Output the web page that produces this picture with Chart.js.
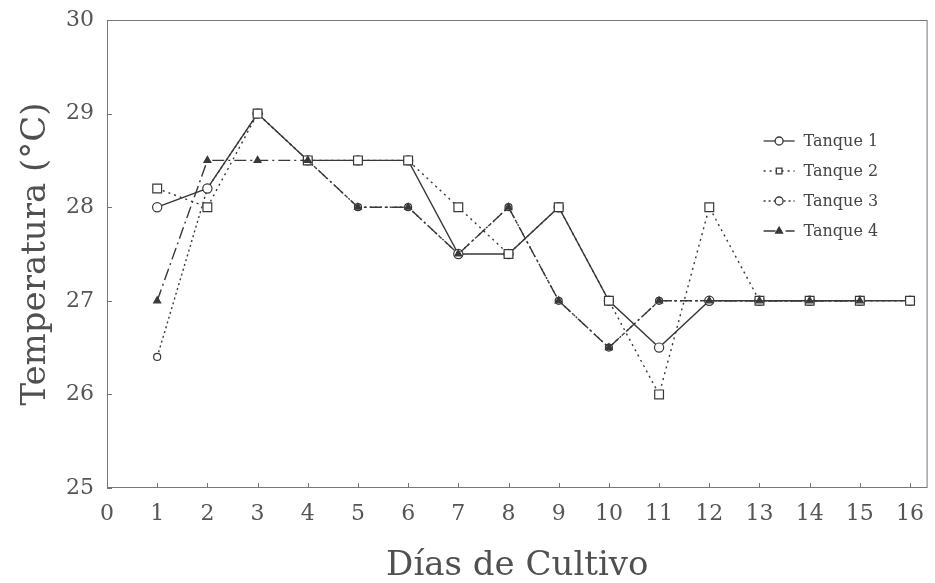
<!DOCTYPE html>
<html>
<head>
<meta charset="utf-8">
<script src="https://cdn.jsdelivr.net/npm/chart.js@4/dist/chart.umd.min.js"></script>
<style>
  html, body { margin: 0; padding: 0; background: #fff; }
  #wrap { width: 935px; height: 583px; }
</style>
</head>
<body>
<div id="wrap"><canvas id="grafico"></canvas></div>
<script>
// Días de cultivo y temperatura (°C) de cada tanque
const dias = [1, 2, 3, 4, 5, 6, 7, 8, 9, 10, 11, 12, 13, 14, 15, 16];
const tanque1 = [28.0, 28.2, 29.0, 28.5, 28.5, 28.5, 27.5, 27.5, 28.0, 27.0, 26.5, 27.0, 27.0, 27.0, 27.0, 27.0];
const tanque2 = [28.2, 28.0, 29.0, 28.5, 28.5, 28.5, 28.0, 27.5, 28.0, 27.0, 26.0, 28.0, 27.0, 27.0, 27.0, 27.0];
const tanque3 = [26.4, 28.2, 29.0, 28.5, 28.0, 28.0, 27.5, 28.0, 27.0, 26.5, 27.0, 27.0, 27.0, 27.0, 27.0, null];
const tanque4 = [27.0, 28.5, 28.5, 28.5, 28.0, 28.0, 27.5, 28.0, 27.0, 26.5, 27.0, 27.0, 27.0, 27.0, 27.0, null];
const nombres = ['Tanque 1', 'Tanque 2', 'Tanque 3', 'Tanque 4'];

const tinta = '#383838';
const serif = 'DejaVu Serif';
const pares = serie => dias.map((d, i) => ({ x: d, y: serie[i] }));

// marco del gráfico, marcas hacia adentro y leyenda interna
const marcoYLeyenda = {
  id: 'marcoYLeyenda',
  afterDraw(chart) {
    const { ctx, chartArea: a, scales: { x, y } } = chart;
    ctx.save();
    ctx.strokeStyle = '#777';
    ctx.lineWidth = 1;
    ctx.strokeRect(a.left + 0.5, a.top + 0.5, a.right - a.left - 1, a.bottom - a.top - 1);
    ctx.beginPath();
    x.ticks.forEach(t => {
      const px = Math.round(x.getPixelForValue(t.value)) + 0.5;
      ctx.moveTo(px, a.bottom); ctx.lineTo(px, a.bottom - 5);
    });
    y.ticks.forEach(t => {
      const py = Math.round(y.getPixelForValue(t.value)) + 0.5;
      ctx.moveTo(a.left, py); ctx.lineTo(a.left + 5, py);
    });
    ctx.stroke();

    // leyenda
    const lx = a.right - 164;
    ctx.font = '16px "' + serif + '"';
    ctx.textBaseline = 'middle';
    chart.data.datasets.forEach((ds, i) => {
      const ly = a.top + 121 + i * 30;
      ctx.beginPath();
      ctx.strokeStyle = tinta;
      ctx.lineWidth = 1.3;
      ctx.setLineDash(ds.borderDash || []);
      ctx.moveTo(lx, ly); ctx.lineTo(lx + 31, ly);
      ctx.stroke();
      ctx.setLineDash([]);
      ctx.fillStyle = ds.pointBackgroundColor;
      ctx.strokeStyle = tinta;
      Chart.helpers.drawPoint(ctx, { pointStyle: ds.pointStyle, radius: 4, borderWidth: 1.2 }, lx + 15.5, ly);
      ctx.fillStyle = '#444';
      ctx.fillText(ds.label, lx + 40, ly + 1);
    });
    ctx.restore();
  }
};

const estilos = [
  { datos: tanque1, dash: [], estilo: 'circle', radio: 4.6, relleno: '#fff', orden: 2 },
  { datos: tanque2, dash: [2, 4], estilo: 'rect', radio: 6.2, relleno: '#fff', orden: 1 },
  { datos: tanque3, dash: [2, 3], estilo: 'circle', radio: 3.5, relleno: '#fff', orden: 3 },
  { datos: tanque4, dash: [12, 4, 2, 4], estilo: 'triangle', radio: 4, relleno: tinta, orden: 0 }
];

new Chart(document.getElementById('grafico'), {
  type: 'line',
  data: {
    datasets: estilos.map((e, i) => ({
      label: nombres[i],
      data: pares(e.datos),
      borderColor: tinta,
      borderWidth: 1.4,
      borderDash: e.dash,
      pointStyle: e.estilo,
      pointRadius: e.radio,
      pointBorderWidth: 1.2,
      pointBorderColor: tinta,
      pointBackgroundColor: e.relleno,
      order: e.orden,
      tension: 0
    }))
  },
  options: {
    responsive: true,
    maintainAspectRatio: false,
    animation: false,
    layout: { padding: { top: 20, right: 2, left: 0, bottom: 0 } },
    plugins: { legend: { display: false }, tooltip: { enabled: false } },
    scales: {
      x: {
        type: 'linear',
        min: 0,
        max: 16.35,
        afterFit: s => { s.height = 95; },
        grid: { display: false },
        border: { display: false },
        ticks: { stepSize: 1, includeBounds: false, padding: 5, color: '#555', font: { family: serif, size: 22 } },
        title: { display: true, text: 'Días de Cultivo', color: '#505050', padding: 0, font: { family: serif, size: 34, lineHeight: 1 } }
      },
      y: {
        min: 25,
        max: 30,
        afterFit: s => { s.width = 107; },
        grid: { display: false },
        border: { display: false },
        ticks: { stepSize: 1, padding: 5, color: '#555', font: { family: serif, size: 22 } },
        title: { display: true, text: 'Temperatura (°C)', color: '#505050', padding: { top: 19 }, font: { family: serif, size: 34, lineHeight: 1 } }
      }
    }
  },
  plugins: [marcoYLeyenda]
});
</script>
</body>
</html>
